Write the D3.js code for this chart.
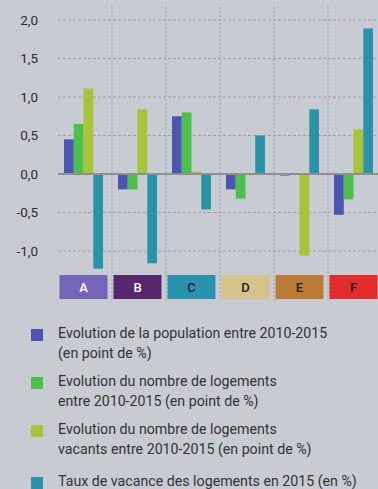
<!DOCTYPE html>
<html>
<head>
<meta charset="utf-8">
<script src="https://cdn.jsdelivr.net/npm/d3@7"></script>
<style>
  html, body { margin: 0; padding: 0; background: #c9cbd3; }
  svg { display: block; }
</style>
</head>
<body>
<svg id="chart" width="378" height="489"></svg>
<script>
// Groups and their header colours
const categories = ["A", "B", "C", "D", "E", "F"];
const categoryColors = ["#7565b9", "#56276f", "#2a92ae", "#d4c38a", "#b97b35", "#e22b2b"];
const categoryTextColors = ["#ffffff", "#ffffff", "#222222", "#222222", "#222222", "#222222"];

// Series values per group
const popEvolution = [0.45, -0.20, 0.75, -0.20, -0.02, -0.53];
const housingEvolution = [0.65, -0.20, 0.80, -0.32, 0.00, -0.33];
const vacantEvolution = [1.11, 0.84, 0.03, 0.00, -1.06, 0.58];
const vacancyRate = [-1.23, -1.16, -0.46, 0.50, 0.84, 1.89];

const seriesNames = [
  ["Evolution de la population entre 2010-2015", "(en point de %)"],
  ["Evolution du nombre de logements", "entre 2010-2015 (en point de %)"],
  ["Evolution du nombre de logements", "vacants entre 2010-2015 (en point de %)"],
  ["Taux de vacance des logements en 2015 (en %)"]
];
const seriesColors = ["#4b56b2", "#4dbf4b", "#a9c43b", "#2b93a9"];
const seriesValues = [popEvolution, housingEvolution, vacantEvolution, vacancyRate];

const yTicks = [-1.0, -0.5, 0.0, 0.5, 1.0, 1.5, 2.0];

const svg = d3.select("#chart");
const fmt = v => d3.format(".1f")(v).replace(".", ",").replace("−", "-");

const x = d3.scaleBand().domain(categories).range([58, 382]).paddingInner(0).paddingOuter(0);
const y = d3.scaleLinear().domain([-1.0, 2.0]).range([251, 20]);
const xs = d3.scaleBand().domain(d3.range(4)).range([6, 45]).padding(0);

// Horizontal dashed grid
svg.append("g").selectAll("line")
  .data(yTicks.filter(t => t !== 0))
  .join("line")
  .attr("x1", 58).attr("x2", 378)
  .attr("y1", d => y(d)).attr("y2", d => y(d))
  .attr("stroke", "#a29ea4").attr("stroke-width", 1)
  .attr("stroke-dasharray", "3,2");

// Vertical dashed separators between groups
svg.append("g").selectAll("line")
  .data(categories.slice(1))
  .join("line")
  .attr("x1", d => x(d)).attr("x2", d => x(d))
  .attr("y1", 7).attr("y2", 300)
  .attr("stroke", "#a29ea4").attr("stroke-width", 1)
  .attr("stroke-dasharray", "2,2");

// Y axis labels
const yAxis = d3.axisLeft(y).tickValues(yTicks).tickFormat(fmt).tickSize(0).tickPadding(0);
const gy = svg.append("g").attr("transform", "translate(38,0)").call(yAxis);
gy.select(".domain").remove();
gy.selectAll("text")
  .attr("font-family", "Roboto, sans-serif")
  .attr("font-size", 13.5)
  .attr("fill", "#2b2b2b");

// Bars
const groups = svg.append("g").selectAll("g")
  .data(categories)
  .join("g")
  .attr("transform", d => `translate(${x(d)},0)`);

groups.selectAll("rect")
  .data((c, i) => seriesValues.map((vals, s) => ({ s, v: vals[i] })))
  .join("rect")
  .attr("x", d => xs(d.s))
  .attr("width", xs.bandwidth())
  .attr("y", d => Math.min(y(d.v), y(0)))
  .attr("height", d => Math.abs(y(d.v) - y(0)))
  .attr("fill", d => seriesColors[d.s]);

// Zero line
svg.append("line")
  .attr("x1", 58).attr("x2", 378)
  .attr("y1", y(0)).attr("y2", y(0))
  .attr("stroke", "#8f8f93").attr("stroke-width", 2);

// Category headers
const heads = svg.append("g").selectAll("g")
  .data(categories)
  .join("g")
  .attr("transform", d => `translate(${x(d) + 1.5},275)`);
heads.append("rect")
  .attr("width", 48).attr("height", 24)
  .attr("fill", (d, i) => categoryColors[i]);
heads.append("text")
  .attr("x", 24).attr("y", 17)
  .attr("text-anchor", "middle")
  .attr("font-family", "Roboto, sans-serif")
  .attr("font-weight", 500)
  .attr("font-size", 13)
  .attr("fill", (d, i) => categoryTextColors[i])
  .text(d => d);

// Legend
const legendTops = [329, 377, 425, 477];
const legend = svg.append("g").selectAll("g")
  .data(seriesNames)
  .join("g")
  .attr("transform", (d, i) => `translate(31,${legendTops[i]})`);
legend.append("rect")
  .attr("width", 12).attr("height", 12)
  .attr("fill", (d, i) => seriesColors[i]);
legend.append("text")
  .attr("font-family", "Roboto, sans-serif")
  .attr("font-size", 14.2)
  .attr("fill", "#333333")
  .selectAll("tspan")
  .data(d => d)
  .join("tspan")
  .attr("x", 27)
  .attr("y", (d, i) => 4 + i * 20)
  .attr("dy", "0.35em")
  .text(d => d);
</script>
</body>
</html>
